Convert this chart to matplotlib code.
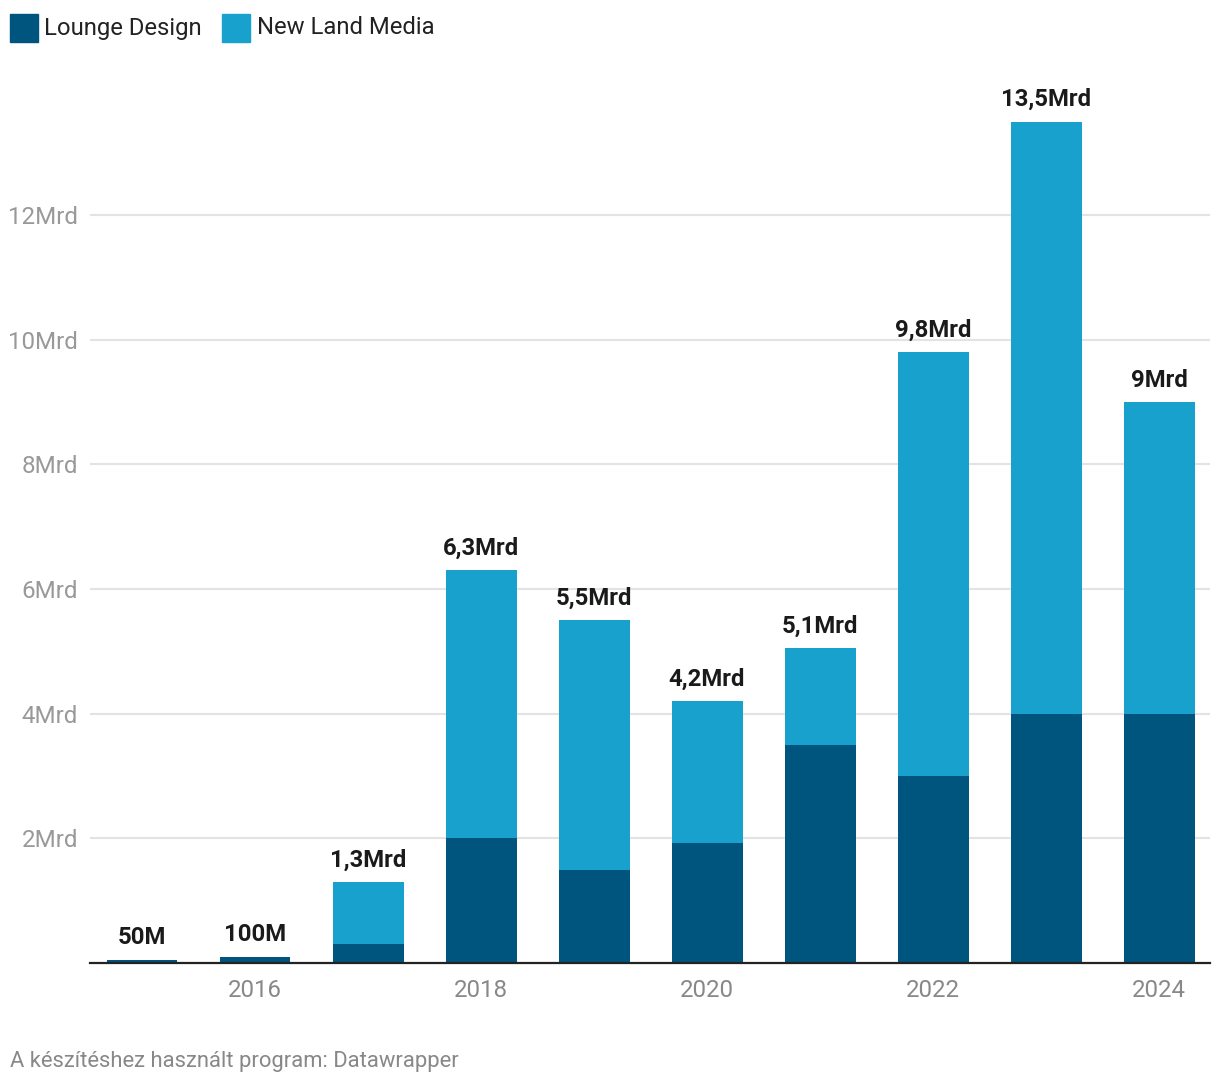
import matplotlib.pyplot as plt
from matplotlib.patches import Rectangle

plt.rcParams['font.family'] = ['Roboto', 'DejaVu Sans']

# data (in Mrd)
years = [2015, 2016, 2017, 2018, 2019, 2020, 2021, 2022, 2023, 2024]
lounge = [0.05, 0.1, 0.3, 2.0, 1.5, 1.93, 3.5, 3.0, 4.0, 4.0]
newland = [0.0, 0.0, 1.0, 4.3, 4.0, 2.27, 1.55, 6.8, 9.5, 5.0]
totals_lbl = ['50M', '100M', '1,3Mrd', '6,3Mrd', '5,5Mrd', '4,2Mrd', '5,1Mrd', '9,8Mrd', '13,5Mrd', '9Mrd']
yticks = [2, 4, 6, 8, 10, 12]
ytick_lbl = ['2Mrd', '4Mrd', '6Mrd', '8Mrd', '10Mrd', '12Mrd']
xtick_years = [2016, 2018, 2020, 2022, 2024]

dark = '#00557e'
light = '#18a1cd'

W, H = 1220, 1086
fig = plt.figure(figsize=(W / 100, H / 100), dpi=100)
ax = fig.add_axes([90 / W, (H - 963) / H, 1120 / W, (963 - 90.4) / H])

ax.bar(years, lounge, width=0.628, color=dark, zorder=3)
ax.bar(years, newland, width=0.628, bottom=lounge, color=light, zorder=3)

for x, a, b, t in zip(years, lounge, newland, totals_lbl):
    ax.annotate(t, (x, a + b), xytext=(0, 7.5), textcoords='offset points',
                ha='center', va='bottom', fontsize=17.2, fontweight='bold', color='#1a1a1a')

ax.set_xlim(2015 - 0.46, 2015 + 9.45)
ax.set_ylim(0, 14)
ax.set_yticks(yticks)
ax.set_yticklabels(ytick_lbl)
ax.set_xticks(xtick_years)
ax.set_xticklabels([str(y) for y in xtick_years])
ax.tick_params(axis='y', length=0, pad=8.5, labelsize=17.4, labelcolor='#999999')
ax.tick_params(axis='x', length=0, pad=11.5, labelsize=17.3, labelcolor='#888888')
ax.grid(axis='y', color='#e3e3e3', linewidth=1.5, zorder=0)
for s in ['top', 'right', 'left']:
    ax.spines[s].set_visible(False)
ax.spines['bottom'].set_color('#222222')
ax.spines['bottom'].set_linewidth(1.6)
ax.spines['bottom'].set_zorder(4)

# legend
fig.patches.append(Rectangle((10 / W, 1 - 42 / H), 28 / W, 28 / H, color=dark, transform=fig.transFigure))
fig.text(44 / W, 1 - 28 / H, 'Lounge Design', fontsize=17.2, color='#222222', va='center')
fig.patches.append(Rectangle((222 / W, 1 - 42 / H), 28 / W, 28 / H, color=light, transform=fig.transFigure))
fig.text(257 / W, 1 - 28 / H, 'New Land Media', fontsize=17.2, color='#222222', va='center')

fig.text(10 / W, 1 - 1062 / H, 'A készítéshez használt program: Datawrapper',
         fontsize=15.8, color='#888888', va='center')

fig.savefig('out.png', dpi=100)
